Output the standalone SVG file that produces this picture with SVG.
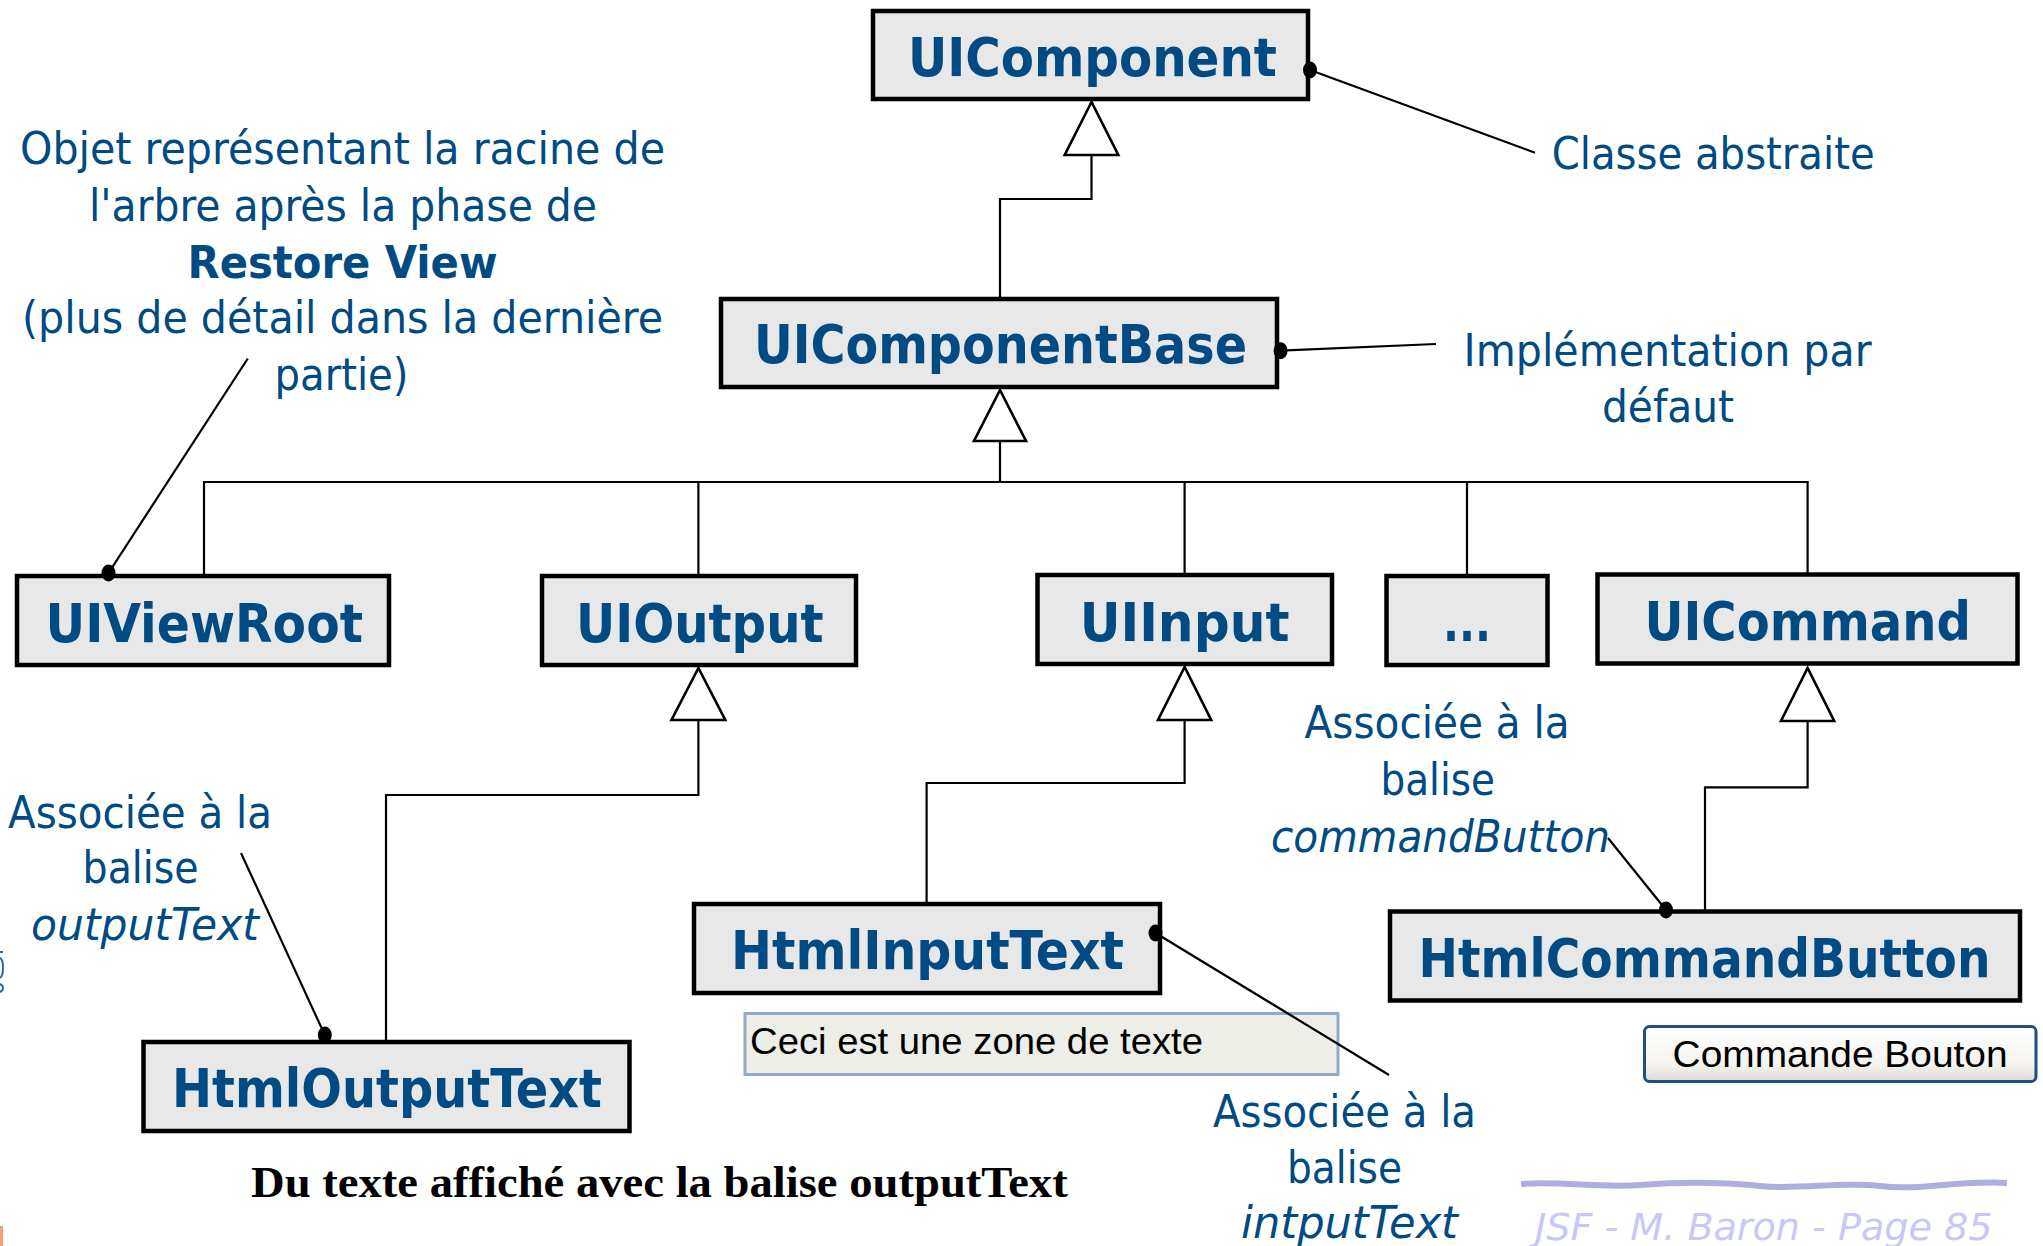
<svg xmlns="http://www.w3.org/2000/svg" width="2043" height="1246" viewBox="0 0 2043 1246">
<style>
.box{fill:#E8E8E8;stroke:#000;stroke-width:4.5}
.nl{font-family:"DejaVu Sans Condensed","DejaVu Sans",sans-serif;font-weight:bold;font-size:53px;fill:#004B84}
.an{font-family:"DejaVu Sans Condensed","DejaVu Sans",sans-serif;font-size:44px;fill:#004B84}
.ai{font-style:italic}
.ab{font-weight:bold}
.ln{fill:none;stroke:#000;stroke-width:2.2}
.tri{fill:#fff;stroke:#000;stroke-width:2.6;stroke-linejoin:miter}
.dot{fill:#000}
</style>
<defs>
<linearGradient id="btn" x1="0" y1="0" x2="0" y2="1">
<stop offset="0" stop-color="#FFFFFF"/>
<stop offset="0.7" stop-color="#F4F3EF"/>
<stop offset="1" stop-color="#DCDAD2"/>
</linearGradient>
</defs>
<rect width="2043" height="1246" fill="#fff"/>

<g id="rendered-samples">
<rect x="745" y="1013.5" width="593" height="61" fill="#EEEEE9" stroke="#92AAC2" stroke-width="3"/>
<text x="750" y="1054" font-family="'Liberation Sans',Arial,sans-serif" font-size="37" fill="#000" textLength="453" lengthAdjust="spacingAndGlyphs">Ceci est une zone de texte</text>
<rect x="1644.5" y="1026.5" width="391.5" height="55" rx="5" fill="url(#btn)" stroke="#1D4F80" stroke-width="3"/>
<text x="1672.6" y="1066.7" font-family="'Liberation Sans',Arial,sans-serif" font-size="37" fill="#000" textLength="335" lengthAdjust="spacingAndGlyphs">Commande Bouton</text>
<text x="251" y="1196.7" font-family="'Liberation Serif','Times New Roman',serif" font-weight="bold" font-size="44" fill="#000" textLength="816.7" lengthAdjust="spacingAndGlyphs">Du texte affiché avec la balise outputText</text>
</g>

<g id="connectors">
<!-- UIComponentBase -> UIComponent -->
<path class="ln" d="M1000,298 V199 H1091.5 V155"/>
<polygon class="tri" points="1091.5,102 1064.7,155 1118.3,155"/>
<!-- children -> UIComponentBase -->
<path class="ln" d="M1000,441 V482 M204,575 V482 H1807.6 V574 M698.4,482 V575 M1184.6,482 V574 M1467,482 V575"/>
<polygon class="tri" points="1000,390 974,441 1026,441"/>
<!-- HtmlOutputText -> UIOutput -->
<path class="ln" d="M698.4,720 V795 H386 V1041"/>
<polygon class="tri" points="698.4,668 671.5,720 725.3,720"/>
<!-- HtmlInputText -> UIInput -->
<path class="ln" d="M1184.6,720 V783 H926.6 V903"/>
<polygon class="tri" points="1184.6,667 1158,720 1211.2,720"/>
<!-- HtmlCommandButton -> UICommand -->
<path class="ln" d="M1807.6,721 V787.3 H1705 V910.7"/>
<polygon class="tri" points="1807.6,668 1781,721 1834.2,721"/>
<!-- annotation leaders -->
<line class="ln" x1="1310" y1="70" x2="1535" y2="152.7"/>
<line class="ln" x1="1280.6" y1="350.7" x2="1436" y2="344"/>
<line class="ln" x1="247.8" y1="358.5" x2="108.5" y2="573"/>
<line class="ln" x1="241" y1="853" x2="324.8" y2="1035"/>
<line class="ln" x1="1155.5" y1="933" x2="1389" y2="1075"/>
<line class="ln" x1="1608" y1="838" x2="1666" y2="910"/>
</g>

<g id="UIComponent">
<rect class="box" x="873" y="11" width="435" height="88"/>
<text class="nl" x="908" y="76" textLength="369" lengthAdjust="spacingAndGlyphs">UIComponent</text>
</g>
<g id="UIComponentBase">
<rect class="box" x="721" y="299" width="556" height="88"/>
<text class="nl" x="754" y="363" textLength="493" lengthAdjust="spacingAndGlyphs">UIComponentBase</text>
</g>
<g id="UIViewRoot">
<rect class="box" x="17" y="576" width="372" height="89"/>
<text class="nl" x="45.5" y="641.7" textLength="317.5" lengthAdjust="spacingAndGlyphs">UIViewRoot</text>
</g>
<g id="UIOutput">
<rect class="box" x="542" y="576" width="314" height="89"/>
<text class="nl" x="576" y="641.7" textLength="247.6" lengthAdjust="spacingAndGlyphs">UIOutput</text>
</g>
<g id="UIInput">
<rect class="box" x="1037.5" y="575" width="294.5" height="89"/>
<text class="nl" x="1079.7" y="640.7" textLength="209.8" lengthAdjust="spacingAndGlyphs">UIInput</text>
</g>
<g id="Others">
<rect class="box" x="1386.5" y="576" width="161" height="89"/>
<text class="nl" x="1443" y="641" textLength="48" lengthAdjust="spacingAndGlyphs">...</text>
</g>
<g id="UICommand">
<rect class="box" x="1597.5" y="574.5" width="420" height="89"/>
<text class="nl" x="1644.5" y="640" textLength="326.3" lengthAdjust="spacingAndGlyphs">UICommand</text>
</g>
<g id="HtmlOutputText">
<rect class="box" x="143.5" y="1042" width="486" height="89"/>
<text class="nl" x="172" y="1106.7" textLength="430" lengthAdjust="spacingAndGlyphs">HtmlOutputText</text>
</g>
<g id="HtmlInputText">
<rect class="box" x="694" y="904" width="466" height="89"/>
<text class="nl" x="731" y="969" textLength="393" lengthAdjust="spacingAndGlyphs">HtmlInputText</text>
</g>
<g id="HtmlCommandButton">
<rect class="box" x="1390" y="911.5" width="630" height="89"/>
<text class="nl" x="1418.5" y="976.7" textLength="572" lengthAdjust="spacingAndGlyphs">HtmlCommandButton</text>
</g>

<g id="leader-dots">
<ellipse class="dot" cx="1310" cy="70" rx="7" ry="8.5"/>
<ellipse class="dot" cx="1280.6" cy="350.7" rx="7" ry="8.5"/>
<ellipse class="dot" cx="108.5" cy="573" rx="7" ry="8.5"/>
<ellipse class="dot" cx="324.8" cy="1035" rx="7" ry="8.5"/>
<ellipse class="dot" cx="1155.5" cy="933" rx="7" ry="8.5"/>
<ellipse class="dot" cx="1666" cy="910" rx="7" ry="8.5"/>
</g>

<g id="annotations">
<text class="an" x="20" y="164" textLength="645" lengthAdjust="spacingAndGlyphs">Objet représentant la racine de</text>
<text class="an" x="89" y="220.7" textLength="508" lengthAdjust="spacingAndGlyphs">l'arbre après la phase de</text>
<text class="an ab" x="187.5" y="277.7" textLength="310" lengthAdjust="spacingAndGlyphs">Restore View</text>
<text class="an" x="22" y="333" textLength="641" lengthAdjust="spacingAndGlyphs">(plus de détail dans la dernière</text>
<text class="an" x="274.5" y="390" textLength="134" lengthAdjust="spacingAndGlyphs">partie)</text>

<text class="an" x="1551.7" y="169.3" textLength="323" lengthAdjust="spacingAndGlyphs">Classe abstraite</text>
<text class="an" x="1463.6" y="365.7" textLength="408" lengthAdjust="spacingAndGlyphs">Implémentation par</text>
<text class="an" x="1602" y="421.7" textLength="132" lengthAdjust="spacingAndGlyphs">défaut</text>

<text class="an" x="8" y="828" textLength="264" lengthAdjust="spacingAndGlyphs">Associée à la</text>
<text class="an" x="82.6" y="883" textLength="116" lengthAdjust="spacingAndGlyphs">balise</text>
<text class="an ai" x="31" y="940" textLength="228" lengthAdjust="spacingAndGlyphs">outputText</text>

<text class="an" x="1304.6" y="738.3" textLength="265" lengthAdjust="spacingAndGlyphs">Associée à la</text>
<text class="an" x="1380.5" y="795" textLength="114.5" lengthAdjust="spacingAndGlyphs">balise</text>
<text class="an ai" x="1271" y="851.7" textLength="339" lengthAdjust="spacingAndGlyphs">commandButton</text>

<text class="an" x="1213" y="1126.7" textLength="263" lengthAdjust="spacingAndGlyphs">Associée à la</text>
<text class="an" x="1287" y="1182.7" textLength="115" lengthAdjust="spacingAndGlyphs">balise</text>
<text class="an ai" x="1241" y="1238" textLength="217" lengthAdjust="spacingAndGlyphs">intputText</text>
</g>

<g id="footer">
<path d="M1521,1184 C1560,1181 1600,1188 1640,1185 S1720,1182 1760,1186 S1840,1181 1880,1186 S1960,1180 2007,1183" fill="none" stroke="#A0A0D8" stroke-width="6" opacity="0.85"/>
<text x="1535" y="1240" font-family="'DejaVu Sans Condensed','DejaVu Sans',sans-serif" font-style="italic" font-size="37" fill="#C8C8F8" textLength="457.5" lengthAdjust="spacingAndGlyphs">JSF - M. Baron - Page  85</text>
</g>

<g id="edge-fragments">
<path d="M0,952 H3 M0,958 C4,960 4,975 0,978 M0,984 C4,986 4,990 0,992" fill="none" stroke="#2A6AA8" stroke-width="2"/>
<rect x="0" y="1226" width="3" height="20" fill="#F5A070"/>
</g>
</svg>
